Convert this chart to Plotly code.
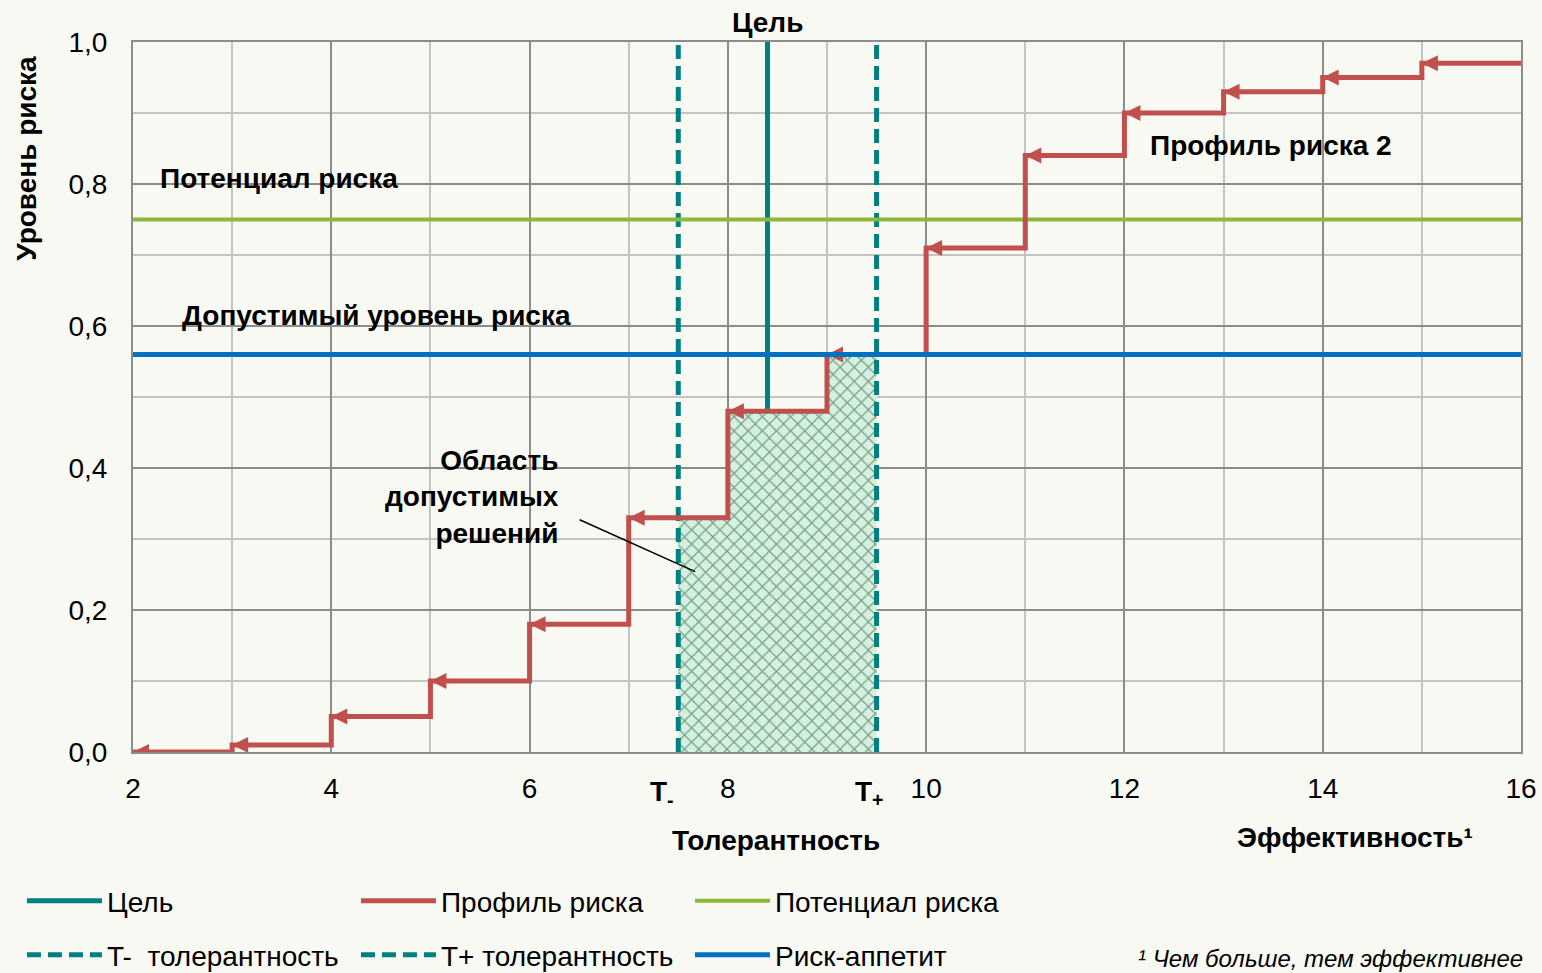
import plotly.graph_objects as go

# ступенчатый профиль риска
profile_x = [2, 3, 4, 5, 6, 7, 8, 9, 10, 11, 12, 13, 14, 15, 16]
profile_y = [0.0, 0.01, 0.05, 0.10, 0.18, 0.33, 0.48, 0.56, 0.71, 0.84, 0.90, 0.93, 0.95, 0.97, 0.97]

target_x = 8.4       # Цель
t_minus = 7.5        # T-
t_plus = 9.5         # T+
potential = 0.75     # Потенциал риска
appetite = 0.56      # Риск-аппетит

x_ticks = [2, 4, 6, 8, 10, 12, 14, 16]
y_ticks = [0.0, 0.2, 0.4, 0.6, 0.8, 1.0]

bg = '#F7F9F2'
teal = '#008080'
red = '#C0504D'
green = '#8DB83A'
blue = '#0070C0'
font_name = 'Liberation Sans, Arial, sans-serif'


def step_val(x):
    v = profile_y[0]
    for px_, py_ in zip(profile_x, profile_y):
        if px_ <= x:
            v = py_
    return v


fill_x = [t_minus] + [p for p in profile_x if t_minus < p < t_plus] + [t_plus]
fill_y = [step_val(x) for x in fill_x]

fig = go.Figure()

# область допустимых решений
fig.add_trace(go.Scatter(x=fill_x, y=fill_y, mode='lines', line=dict(width=0, shape='hv'),
                         fill='tozeroy', fillcolor='#D6F0E0',
                         fillpattern=dict(shape='x', fgcolor='#0F4A2A', bgcolor='#D6F0E0',
                                          size=10, solidity=0.22),
                         showlegend=False, hoverinfo='skip'))

fig.add_trace(go.Scatter(x=[target_x, target_x], y=[step_val(target_x), 1.0], mode='lines',
                         line=dict(color=teal, width=5), name='Цель',
                         legend='legend', legendrank=1))
fig.add_trace(go.Scatter(x=[t_minus, t_minus], y=[0, 1], mode='lines',
                         line=dict(color=teal, width=5, dash='14px,7px'), name='T-  толерантность',
                         legend='legend2', legendrank=1))
fig.add_trace(go.Scatter(x=[t_plus, t_plus], y=[0, 1], mode='lines',
                         line=dict(color=teal, width=5, dash='14px,7px'), name='T+ толерантность',
                         legend='legend2', legendrank=2))
fig.add_trace(go.Scatter(x=[profile_x[0], profile_x[-1]], y=[potential, potential], mode='lines',
                         line=dict(color=green, width=4), name='Потенциал риска',
                         legend='legend', legendrank=3))
fig.add_trace(go.Scatter(x=profile_x, y=profile_y, mode='lines',
                         line=dict(color=red, width=5, shape='hv'), name='Профиль риска',
                         legend='legend', legendrank=2))
fig.add_trace(go.Scatter(x=profile_x[:-1], y=profile_y[:-1], mode='markers',
                         marker=dict(symbol='arrow-left', size=16, color=red, line=dict(width=0)),
                         showlegend=False, hoverinfo='skip'))
fig.add_trace(go.Scatter(x=[profile_x[0], profile_x[-1]], y=[appetite, appetite], mode='lines',
                         line=dict(color=blue, width=5), name='Риск-аппетит',
                         legend='legend2', legendrank=3))

bold = dict(family=font_name, size=28, color='black')
ann = [
    dict(x=target_x, y=1, xref='x', yref='y', text='<b>Цель</b>', showarrow=False,
         yanchor='bottom', yshift=2, font=bold),
    dict(x=2.25, y=0.808, xref='x', yref='y', text='<b>Потенциал риска</b>', showarrow=False,
         xanchor='left', font=bold),
    dict(x=2.47, y=0.615, xref='x', yref='y', text='<b>Допустимый уровень риска</b>', showarrow=False,
         xanchor='left', font=bold),
    dict(x=6.32, y=0.359, xref='x', yref='y', text='<b>Область<br>допустимых<br>решений</b>',
         showarrow=False, xanchor='right', align='right', font=bold),
    dict(x=7.67, y=0.254, xref='x', yref='y', ax=6.49, ay=0.328, axref='x', ayref='y', text='',
         showarrow=True, arrowhead=0, arrowwidth=1.5, arrowcolor='black'),
    dict(x=12.24, y=0.854, xref='x', yref='y', text='<b>Профиль риска 2</b>', showarrow=False,
         xanchor='left', font=bold),
    dict(x=7.34, y=-0.058, xref='x', yref='paper', text='<b>T<sub>-</sub></b>', showarrow=False,
         xanchor='center', yanchor='middle', font=bold),
    dict(x=9.43, y=-0.058, xref='x', yref='paper', text='<b>T<sub>+</sub></b>', showarrow=False,
         xanchor='center', yanchor='middle', font=bold),
    dict(x=8.49, y=-0.124, xref='x', yref='paper', text='<b>Толерантность</b>', showarrow=False,
         xanchor='center', yanchor='middle', font=bold),
    dict(x=14.33, y=-0.121, xref='x', yref='paper', text='<b>Эффективность¹</b>', showarrow=False,
         xanchor='center', yanchor='middle', font=bold),
    dict(x=-0.0764, y=0.837, xref='paper', yref='paper', text='<b>Уровень риска</b>', showarrow=False,
         xanchor='center', yanchor='middle', textangle=-90, font=bold),
    dict(x=1.003, y=-0.291, xref='paper', yref='paper', text='<i>¹ Чем больше, тем эффективнее</i>',
         showarrow=False, xanchor='right', yanchor='middle',
         font=dict(family=font_name, size=24, color='black')),
]

legend_font = dict(family=font_name, size=28, color='black')
fig.update_layout(
    width=1542, height=973,
    margin=dict(l=133, r=21, t=42, b=221, autoexpand=False),
    paper_bgcolor=bg, plot_bgcolor=bg,
    separators=', ',
    font=dict(family=font_name, size=28, color='black'),
    annotations=ann,
    legend=dict(orientation='h', x=-0.080, y=-0.21, xanchor='left', yanchor='middle',
                entrywidth=244, itemwidth=75, font=legend_font, bgcolor='rgba(0,0,0,0)',
                traceorder='normal'),
    legend2=dict(orientation='h', x=-0.080, y=-0.286, xanchor='left', yanchor='middle',
                 entrywidth=244, itemwidth=75, font=legend_font, bgcolor='rgba(0,0,0,0)',
                 traceorder='normal'),
)
fig.update_xaxes(range=[2, 16], tickvals=x_ticks, showgrid=True, gridcolor='#8C8C8C', gridwidth=2,
                 minor=dict(dtick=1, showgrid=True, gridcolor='#C4C4C4', gridwidth=2),
                 showline=True, linecolor='#8C8C8C', linewidth=2, mirror=True, zeroline=False,
                 ticks='', ticklabelstandoff=10, tickfont=dict(size=28))
fig.update_yaxes(range=[0, 1], tickvals=y_ticks, tickformat='.1f', showgrid=True, gridcolor='#8C8C8C',
                 gridwidth=2, minor=dict(dtick=0.1, showgrid=True, gridcolor='#C4C4C4', gridwidth=2),
                 showline=True, linecolor='#8C8C8C', linewidth=2, mirror=True, zeroline=False,
                 ticks='', ticklabelstandoff=18, tickfont=dict(size=28))

fig.write_html("out.html", config={'displayModeBar': False},
               post_script="document.body.style.margin='0';document.body.style.overflow='hidden';")
